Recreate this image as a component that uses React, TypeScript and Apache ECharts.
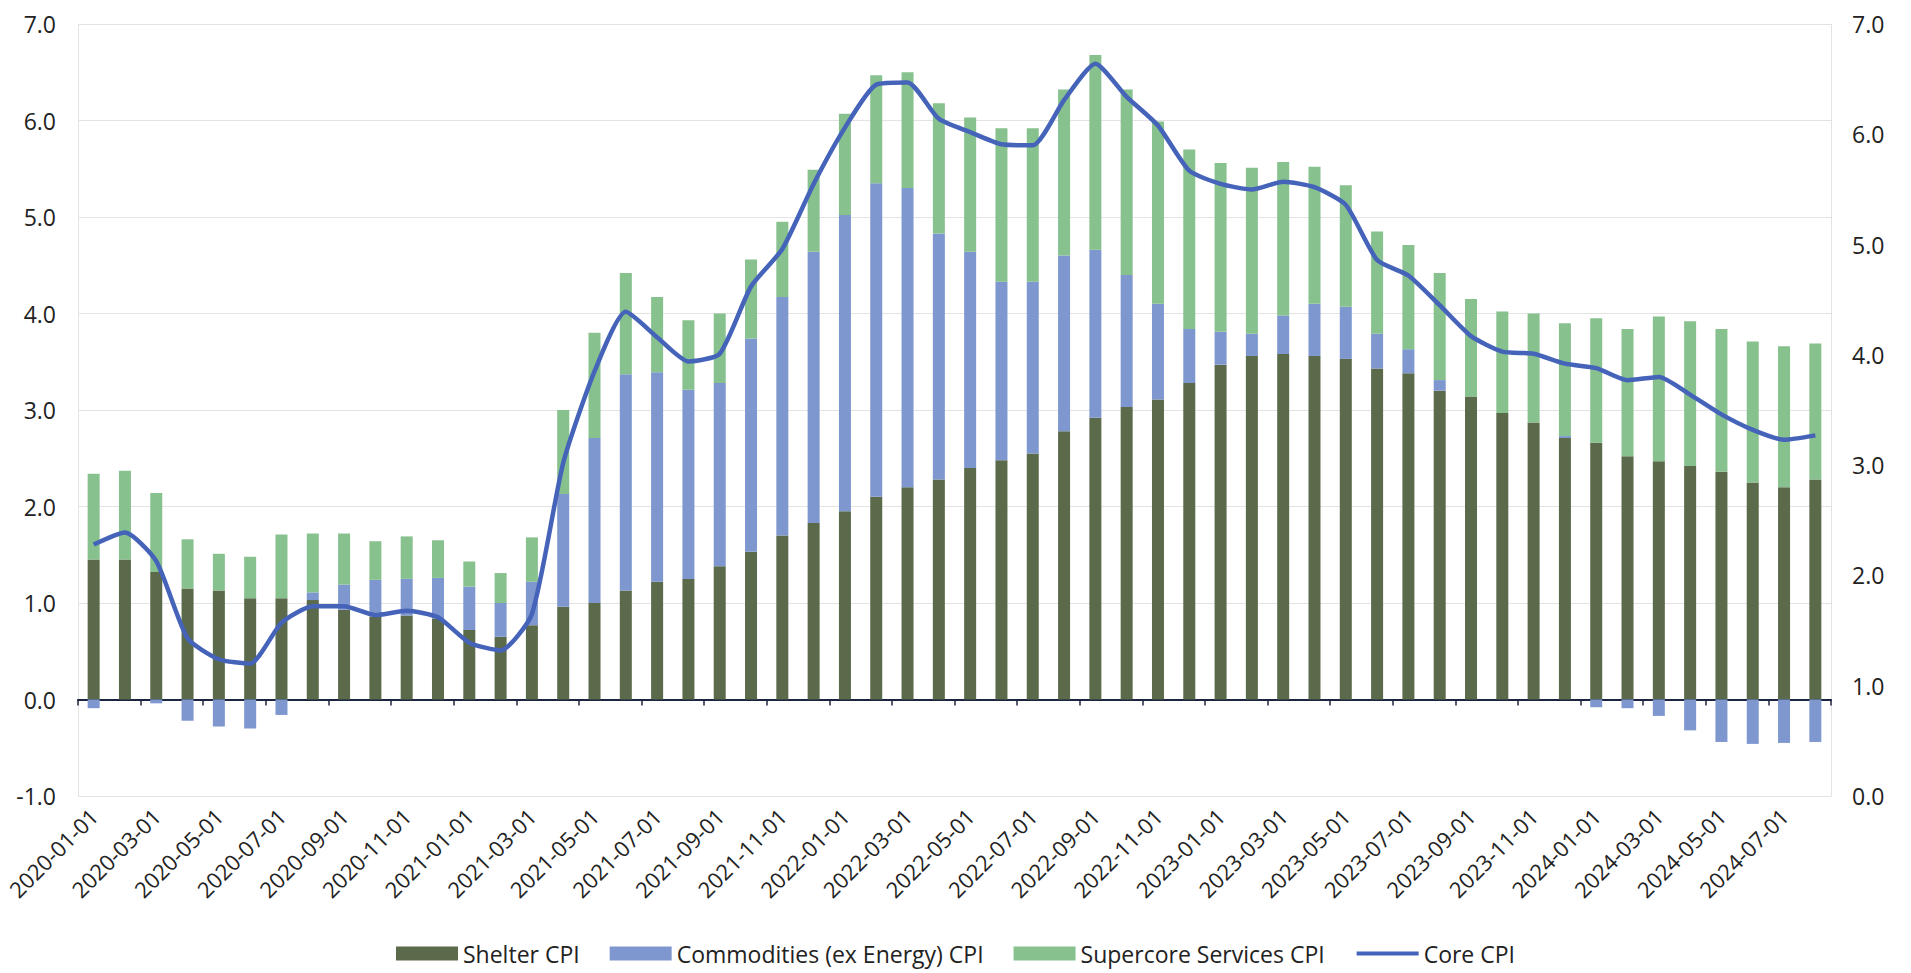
import React, { useEffect, useRef } from "react";
import * as echarts from "echarts";

// Monthly observations, 2020-01 to 2024-08
const months = [
  "2020-01-01", "2020-02-01", "2020-03-01", "2020-04-01", "2020-05-01", "2020-06-01",
  "2020-07-01", "2020-08-01", "2020-09-01", "2020-10-01", "2020-11-01", "2020-12-01",
  "2021-01-01", "2021-02-01", "2021-03-01", "2021-04-01", "2021-05-01", "2021-06-01",
  "2021-07-01", "2021-08-01", "2021-09-01", "2021-10-01", "2021-11-01", "2021-12-01",
  "2022-01-01", "2022-02-01", "2022-03-01", "2022-04-01", "2022-05-01", "2022-06-01",
  "2022-07-01", "2022-08-01", "2022-09-01", "2022-10-01", "2022-11-01", "2022-12-01",
  "2023-01-01", "2023-02-01", "2023-03-01", "2023-04-01", "2023-05-01", "2023-06-01",
  "2023-07-01", "2023-08-01", "2023-09-01", "2023-10-01", "2023-11-01", "2023-12-01",
  "2024-01-01", "2024-02-01", "2024-03-01", "2024-04-01", "2024-05-01", "2024-06-01",
  "2024-07-01", "2024-08-01",
];

// Stacked components (left axis)
const shelterCpi = [
  1.45, 1.45, 1.32, 1.15, 1.13, 1.05, 1.05, 1.03, 0.93, 0.86, 0.87, 0.84,
  0.72, 0.65, 0.77, 0.96, 1.0, 1.13, 1.22, 1.25, 1.38, 1.53, 1.7, 1.83,
  1.95, 2.1, 2.2, 2.28, 2.4, 2.48, 2.55, 2.78, 2.92, 3.03, 3.11, 3.28,
  3.47, 3.56, 3.58, 3.56, 3.53, 3.43, 3.38, 3.2, 3.14, 2.97, 2.87, 2.71,
  2.66, 2.52, 2.47, 2.42, 2.36, 2.25, 2.2, 2.28,
];

const commoditiesCpi = [
  -0.09, 0.0, -0.04, -0.22, -0.28, -0.3, -0.16, 0.08, 0.26, 0.38, 0.38, 0.42,
  0.45, 0.35, 0.45, 1.17, 1.71, 2.24, 2.17, 1.96, 1.9, 2.21, 2.47, 2.81,
  3.07, 3.25, 3.1, 2.55, 2.24, 1.85, 1.78, 1.82, 1.74, 1.37, 0.99, 0.56,
  0.34, 0.23, 0.4, 0.54, 0.54, 0.36, 0.25, 0.11, 0.0, 0.0, 0.0, 0.02,
  -0.08, -0.09, -0.17, -0.32, -0.44, -0.46, -0.45, -0.44,
];

const supercoreCpi = [
  0.89, 0.92, 0.82, 0.51, 0.38, 0.43, 0.66, 0.61, 0.53, 0.4, 0.44, 0.39,
  0.26, 0.31, 0.46, 0.87, 1.09, 1.05, 0.78, 0.72, 0.72, 0.82, 0.78, 0.85,
  1.05, 1.12, 1.2, 1.35, 1.39, 1.59, 1.59, 1.72, 2.02, 1.92, 1.89, 1.86,
  1.75, 1.72, 1.59, 1.42, 1.26, 1.06, 1.08, 1.11, 1.01, 1.05, 1.13, 1.17,
  1.29, 1.32, 1.5, 1.5, 1.48, 1.46, 1.46, 1.41,
];

// Headline core rate (right axis)
const coreCpi = [
  2.28, 2.39, 2.13, 1.43, 1.24, 1.2, 1.57, 1.72, 1.72, 1.64, 1.68, 1.62,
  1.39, 1.32, 1.65, 3.02, 3.85, 4.39, 4.16, 3.94, 4.01, 4.62, 4.96, 5.55,
  6.06, 6.45, 6.47, 6.14, 6.02, 5.91, 5.9, 6.31, 6.64, 6.34, 6.08, 5.67,
  5.55, 5.5, 5.57, 5.52, 5.36, 4.86, 4.72, 4.45, 4.17, 4.03, 4.01, 3.92,
  3.88, 3.77, 3.8, 3.64, 3.46, 3.32, 3.23, 3.27,
];

const leftTicks = { min: -1, max: 7, step: 1 };
const rightTicks = { min: 0, max: 7, step: 1 };

const FONT = '"Open Sans", "Noto Sans", sans-serif';
const TEXT = "#222222";
const GRID_LINE = "#e3e3e3";
const AXIS_DARK = "#1c2540";
const CORE_BLUE = "#4563b9";

export default function App() {
  const ref = useRef<HTMLDivElement>(null);

  useEffect(() => {
    if (!ref.current) return;
    const chart = echarts.init(ref.current, undefined, { renderer: "svg" });

    const fmt = (v: number) => v.toFixed(1);

    chart.setOption({
      animation: false,
      backgroundColor: "#ffffff",
      textStyle: { fontFamily: FONT },
      grid: { left: 78, right: 80, top: 24, bottom: 177, containLabel: false },
      legend: {
        bottom: 3,
        left: "center",
        itemWidth: 62,
        itemHeight: 14,
        itemGap: 30,
        textStyle: { fontSize: 23, color: TEXT, fontFamily: FONT },
        data: [
          { name: "Shelter CPI", icon: "rect" },
          { name: "Commodities (ex Energy) CPI", icon: "rect" },
          { name: "Supercore Services CPI", icon: "rect" },
          {
            name: "Core CPI",
            itemStyle: { opacity: 0 },
            lineStyle: { width: 4, color: CORE_BLUE },
          },
        ],
      },
      xAxis: [
        {
          type: "category",
          data: months,
          position: "bottom",
          axisLine: { show: false, onZero: false },
          axisTick: { show: false },
          axisLabel: {
            interval: 1,
            rotate: 45,
            fontSize: 22,
            color: TEXT,
            margin: 16,
            fontFamily: FONT,
          },
        },
        {
          type: "category",
          data: months,
          position: "bottom",
          axisLine: {
            show: true,
            onZero: true,
            onZeroAxisIndex: 0,
            lineStyle: { color: AXIS_DARK, width: 2 },
          },
          axisTick: {
            show: true,
            interval: 1,
            length: 6,
            lineStyle: { color: AXIS_DARK, width: 1.5 },
          },
          axisLabel: { show: false },
          splitLine: { show: false },
        },
      ],
      yAxis: [
        {
          type: "value",
          position: "left",
          min: leftTicks.min,
          max: leftTicks.max,
          interval: leftTicks.step,
          axisLine: { show: true, lineStyle: { color: GRID_LINE } },
          axisTick: { show: false },
          axisLabel: { formatter: fmt, fontSize: 23, color: TEXT, margin: 22, fontFamily: FONT },
          splitLine: { show: true, lineStyle: { color: GRID_LINE, width: 1 } },
        },
        {
          type: "value",
          position: "right",
          min: rightTicks.min,
          max: rightTicks.max,
          interval: rightTicks.step,
          axisLine: { show: true, lineStyle: { color: GRID_LINE } },
          axisTick: { show: false },
          axisLabel: { formatter: fmt, fontSize: 23, color: TEXT, margin: 21, fontFamily: FONT },
          splitLine: { show: false },
        },
      ],
      series: [
        {
          name: "Shelter CPI",
          type: "bar",
          stack: "cpi",
          barWidth: 12,
          xAxisIndex: 0,
          yAxisIndex: 0,
          itemStyle: { color: "#5a6a4a" },
          data: shelterCpi,
        },
        {
          name: "Commodities (ex Energy) CPI",
          type: "bar",
          stack: "cpi",
          barWidth: 12,
          xAxisIndex: 0,
          yAxisIndex: 0,
          itemStyle: { color: "#7e97cf" },
          data: commoditiesCpi,
        },
        {
          name: "Supercore Services CPI",
          type: "bar",
          stack: "cpi",
          barWidth: 12,
          xAxisIndex: 0,
          yAxisIndex: 0,
          itemStyle: { color: "#86c18e" },
          data: supercoreCpi,
        },
        {
          name: "Core CPI",
          type: "line",
          xAxisIndex: 0,
          yAxisIndex: 1,
          smooth: 0.2,
          symbol: "none",
          showSymbol: false,
          lineStyle: { color: CORE_BLUE, width: 4.5 },
          itemStyle: { color: CORE_BLUE },
          z: 5,
          data: coreCpi,
        },
      ],
    });

    return () => {
      chart.dispose();
    };
  }, []);

  return (
    <div
      ref={ref}
      style={{ position: "fixed", left: 0, top: 0, width: 1911, height: 973, background: "#fff" }}
    />
  );
}
